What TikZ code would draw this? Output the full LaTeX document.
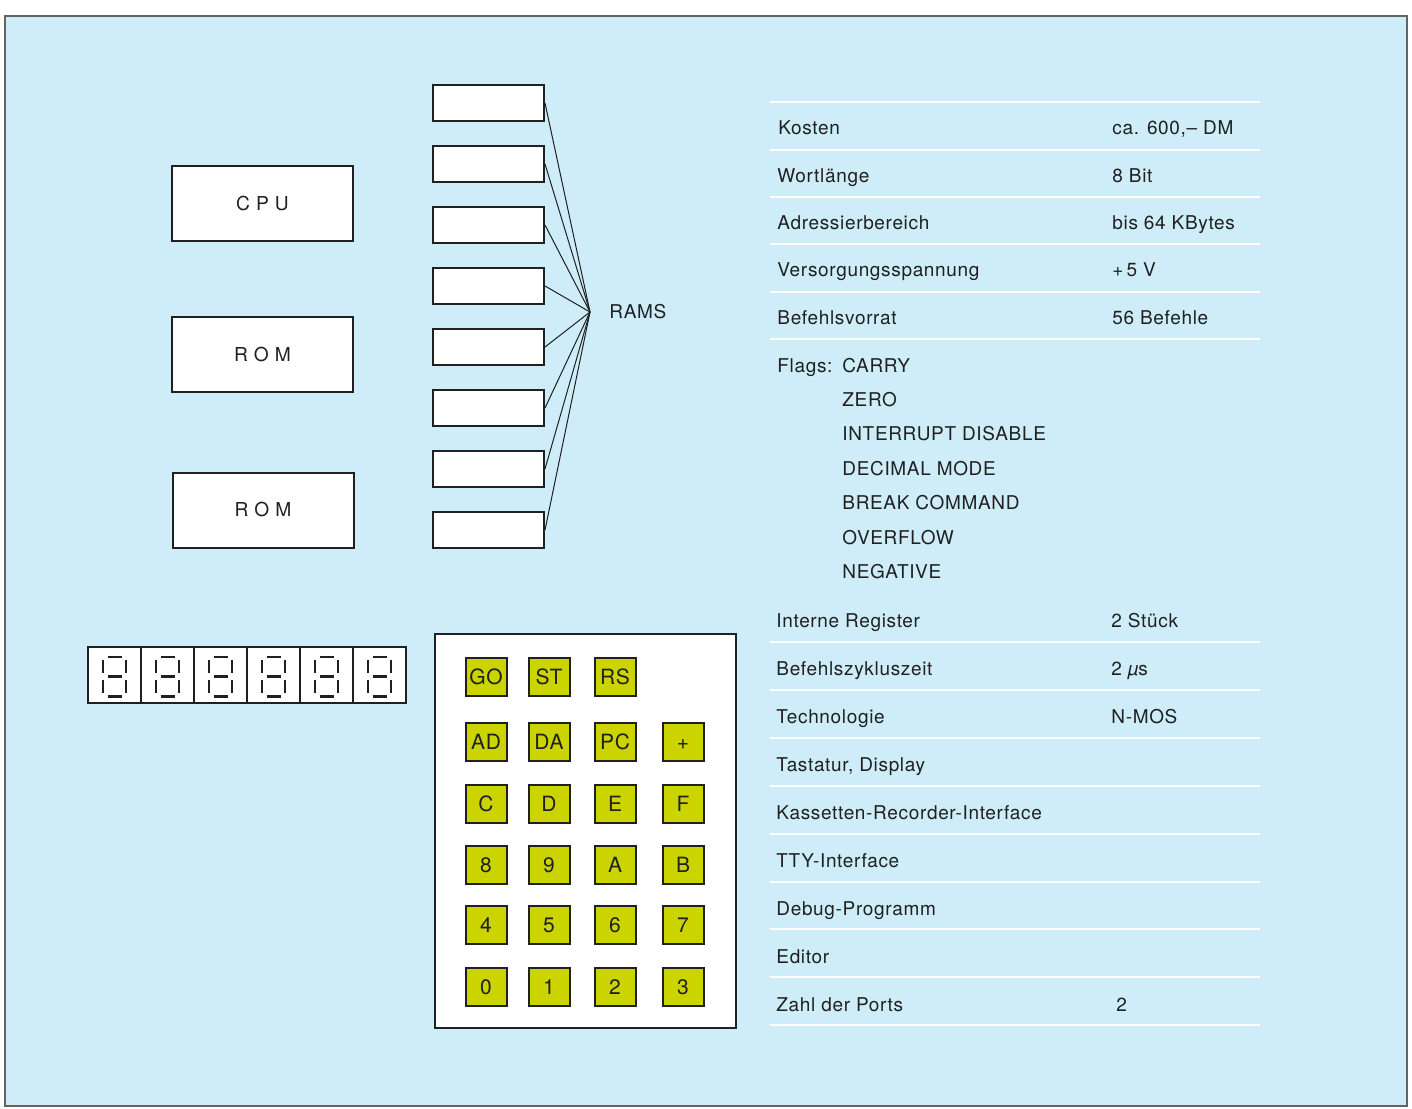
\documentclass[tikz,border=0pt]{standalone}
\usepackage{fontspec}
\setmainfont{TeX Gyre Heros}[LetterSpace=3.5]
\usetikzlibrary{positioning}

\definecolor{paper}{RGB}{206,237,249}
\definecolor{keygreen}{RGB}{204,212,0}
\definecolor{ink}{RGB}{32,32,32}

\begin{document}
\begin{tikzpicture}[x=0.5pt,y=-0.5pt,
    every node/.style={text=ink},
    chip/.style={draw=ink,fill=white,line width=1pt,minimum width=90.5pt,minimum height=37.5pt,
        inner sep=0pt,text height=6.9pt,text depth=0pt,font=\fontsize{9.6}{11}\selectfont},
    ram/.style={draw=ink,fill=white,line width=1pt,minimum width=55.5pt,minimum height=18pt,inner sep=0pt},
    wire/.style={draw=ink,line width=0.5pt},
    cell/.style={draw=ink,fill=white,line width=1pt,minimum width=26.5pt,minimum height=28pt,inner sep=0pt},
    seg/.style={draw=ink,line width=1.2pt},
    key/.style={draw=ink,fill=keygreen,line width=1pt,minimum width=20.5pt,minimum height=19pt,
        inner sep=0pt,text height=7.7pt,text depth=0pt,font=\fontsize{10.5}{12}\selectfont},
    item/.style={anchor=west,inner sep=0pt,text height=6.8pt,text depth=0pt,font=\fontsize{9.5}{11}\selectfont},
    rule/.style={draw=white,line width=1.2pt}]
    \useasboundingbox (0,0) rectangle (1412,1108);
    \fill[paper] (5,16) rectangle (1407,1106);
    \draw[ink!70,line width=0.6pt] (5,16) rectangle (1407,1106);

    % CPU und ROMs
    \node[chip] (cpu) at (262.5,203.5) {C P U};
    \node[chip] (rom1) at (262.5,354.5) {R O M};
    \node[chip] (rom2) at (263,510) {R O M};

    % RAM-Bausteine
    \coordinate (hub) at (590,312);
    \foreach \i in {1,...,8} {
        \node[ram] (ram\i) at (488.5,{42+61*\i}) {};
        \draw[wire] (ram\i.east) -- (hub);
    }
    \node[item,right=9.5pt of hub] (rams) {RAMS};

    % Anzeige
    \foreach \k in {0,...,5} {
        \node[cell] (digit\k) at ({114.5+53*\k},675) {};
        \begin{scope}[shift={(digit\k.center)}]
            \draw[seg] (-7,-18) -- (7,-18);
            \draw[seg] (-7,1.5) -- (7,1.5);
            \draw[seg] (-7,21.5) -- (7,21.5);
            \draw[seg] (-11.5,-15) -- (-11.5,-2);
            \draw[seg] (11.5,-15) -- (11.5,-2);
            \draw[seg] (-11.5,5) -- (-11.5,18);
            \draw[seg] (11.5,5) -- (11.5,18);
        \end{scope}
    }

    % Tastatur
    \node[draw=ink,fill=white,line width=1pt,minimum width=150.5pt,minimum height=197pt,inner sep=0pt]
        (keypad) at (585.5,831) {};
    \foreach \keys [count=\r] in {{GO,ST,RS},{AD,DA,PC,+},{C,D,E,F},{8,9,A,B},{4,5,6,7},{0,1,2,3}}
        \foreach \lab [count=\c] in \keys
            \node[key] (key-\r-\c) at ({{486,549,615,683}[\c-1]},{{677,742,804,865,925,987}[\r-1]}) {\lab};

    % Tabelle
    \foreach \y in {102,150,197,244,292,339,642,690,738,786,834,882,929,977,1025}
        \draw[rule] (770,\y) -- (1260,\y);

    \node[item] (kosten) at (778,128) {Kosten};
    \node[item] (kosten-v) at (1112,128) {ca. 600,-- DM};
    \node[item] (wort) at (777,176) {Wortlänge};
    \node[item] (wort-v) at (1112,176) {8 Bit};
    \node[item] (adr) at (777,223) {Adressierbereich};
    \node[item] (adr-v) at (1112,223) {bis 64 KBytes};
    \node[item] (vers) at (777,270) {Versorgungsspannung};
    \node[item] (vers-v) at (1112,270) {+\,5 V};
    \node[item] (bef) at (777,318) {Befehlsvorrat};
    \node[item] (bef-v) at (1112,318) {56 Befehle};

    \node[item] (flags) at (777,366) {Flags:};
    \node[item] (carry) at (842,366) {CARRY};
    \node[item] (zero) at (842,400) {ZERO};
    \node[item] (irq) at (842,434) {INTERRUPT DISABLE};
    \node[item] (dec) at (842,469) {DECIMAL MODE};
    \node[item] (brk) at (842,503) {BREAK COMMAND};
    \node[item] (ovf) at (842,538) {OVERFLOW};
    \node[item] (neg) at (842,572) {NEGATIVE};

    \node[item] (reg) at (776,621) {Interne Register};
    \node[item] (reg-v) at (1111,621) {2 Stück};
    \node[item] (zykl) at (776,669) {Befehlszykluszeit};
    \node[item] (zykl-v) at (1111,669) {2 {\itshape µ}s};
    \node[item] (tech) at (776,717) {Technologie};
    \node[item] (tech-v) at (1111,717) {N-MOS};
    \node[item] (tast) at (776,765) {Tastatur, Display};
    \node[item] (kass) at (776,813) {Kassetten-Recorder-Interface};
    \node[item] (tty) at (776,861) {TTY-Interface};
    \node[item] (debug) at (776,909) {Debug-Programm};
    \node[item] (edit) at (776,957) {Editor};
    \node[item] (ports) at (776,1005) {Zahl der Ports};
    \node[item] (ports-v) at (1116,1005) {2};
\end{tikzpicture}
\end{document}
